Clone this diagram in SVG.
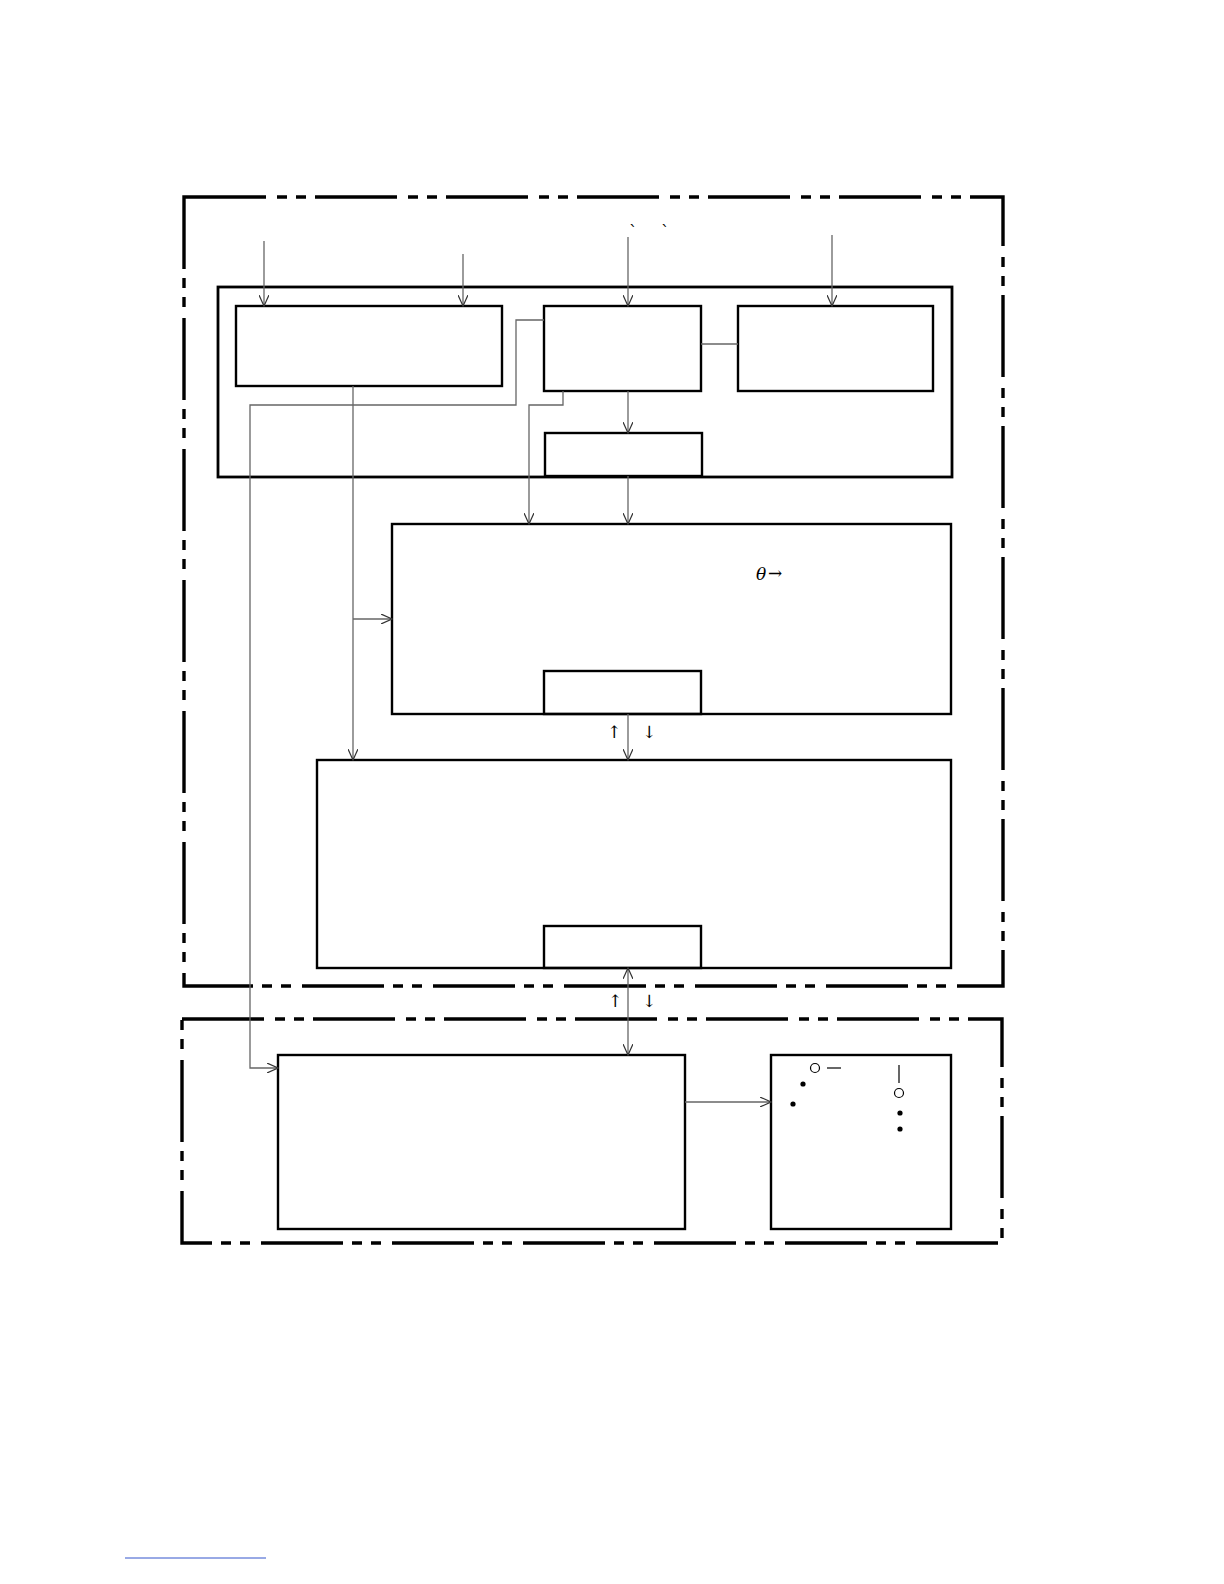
<svg xmlns="http://www.w3.org/2000/svg" width="1224" height="1584" viewBox="0 0 1224 1584">
<style>
.dd{fill:none;stroke:#000;stroke-width:3.4;stroke-dasharray:82 11 10 9 10 9}
.bx{fill:none;stroke:#000;stroke-width:2.4}
.ib{fill:none;stroke:#000;stroke-width:2.8}
.cn{fill:none;stroke:#666;stroke-width:1.3}
.t{font-family:"DejaVu Serif","Liberation Serif",serif;font-size:17px;fill:#000}
</style>
<defs>
<marker id="ah" markerWidth="12" markerHeight="10" refX="11" refY="5" orient="auto" markerUnits="userSpaceOnUse">
<path d="M0,0 L11,5 L0,10" fill="none" stroke="#333" stroke-width="1.2"/>
</marker>
<marker id="as" markerWidth="12" markerHeight="10" refX="1" refY="5" orient="auto" markerUnits="userSpaceOnUse">
<path d="M12,0 L1,5 L12,10" fill="none" stroke="#333" stroke-width="1.2"/>
</marker>
</defs>
<g id="frame1"><rect class="dd" x="184" y="197" width="819" height="789"/></g>
<g id="frame2"><rect class="dd" x="182" y="1019" width="820" height="224"/></g>
<g id="group-top"><rect class="ib" x="218" y="287" width="734" height="190"/></g>
<g id="nodeA"><rect class="bx" x="236" y="306" width="266" height="80"/></g>
<g id="nodeB"><rect class="bx" x="544" y="306" width="157" height="85"/></g>
<g id="nodeC"><rect class="bx" x="738" y="306" width="195" height="85"/></g>
<g id="nodeD"><rect class="bx" x="545" y="433" width="157" height="43"/></g>
<g id="nodeE"><rect class="bx" x="392" y="524" width="559" height="190"/><rect class="bx" x="544" y="671" width="157" height="43"/>
<text class="t" x="756" y="580" font-style="italic" font-family="Liberation Serif, serif">θ</text><text class="t" x="768" y="579">→</text></g>
<g id="nodeF"><rect class="bx" x="317" y="760" width="634" height="208"/><rect class="bx" x="544" y="926" width="157" height="42"/></g>
<g id="nodeG"><rect class="bx" x="278" y="1055" width="407" height="174"/></g>
<g id="nodeH"><rect class="bx" x="771" y="1055" width="180" height="174"/>
<circle cx="815" cy="1068" r="4.5" fill="none" stroke="#000" stroke-width="1.2"/>
<line x1="827" y1="1068" x2="841" y2="1068" stroke="#000" stroke-width="1.2"/>
<circle cx="803" cy="1084" r="2.6" fill="#000"/>
<circle cx="793" cy="1104" r="2.6" fill="#000"/>
<line x1="899" y1="1065" x2="899" y2="1083" stroke="#000" stroke-width="1.2"/>
<circle cx="899" cy="1093" r="4.5" fill="none" stroke="#000" stroke-width="1.2"/>
<circle cx="900" cy="1113" r="2.6" fill="#000"/>
<circle cx="900" cy="1129" r="2.6" fill="#000"/>
</g>
<g id="connectors">
<line class="cn" x1="264" y1="241" x2="264" y2="306" marker-end="url(#ah)"/>
<line class="cn" x1="463" y1="254" x2="463" y2="306" marker-end="url(#ah)"/>
<line class="cn" x1="628" y1="237" x2="628" y2="306" marker-end="url(#ah)"/>
<line class="cn" x1="832" y1="235" x2="832" y2="306" marker-end="url(#ah)"/>
<line class="cn" x1="701" y1="344" x2="738" y2="344"/>
<polyline class="cn" points="353,386 353,760" marker-end="url(#ah)"/>
<polyline class="cn" points="353,619 392,619" marker-end="url(#ah)"/>
<polyline class="cn" points="544,320 516,320 516,405 250,405 250,1068 278,1068" marker-end="url(#ah)"/>
<polyline class="cn" points="563,391 563,405 529,405 529,524" marker-end="url(#ah)"/>
<line class="cn" x1="628" y1="391" x2="628" y2="433" marker-end="url(#ah)"/>
<line class="cn" x1="628" y1="476" x2="628" y2="524" marker-end="url(#ah)"/>
<line class="cn" x1="628" y1="714" x2="628" y2="760" marker-end="url(#ah)"/>
<line class="cn" x1="628" y1="968" x2="628" y2="1055" marker-start="url(#as)" marker-end="url(#ah)"/>
<line class="cn" x1="685" y1="1102" x2="771" y2="1102" marker-end="url(#ah)"/>
</g>
<g id="labels">
<text class="t" x="629" y="237" font-size="13">`</text>
<text class="t" x="661" y="237" font-size="13">`</text>
<text class="t" x="607" y="738">↑</text>
<text class="t" x="642" y="738">↓</text>
<text class="t" x="608" y="1007">↑</text>
<text class="t" x="642" y="1007">↓</text>
</g>
<line x1="125" y1="1558" x2="266" y2="1558" stroke="#3355cc" stroke-width="1"/>
</svg>
